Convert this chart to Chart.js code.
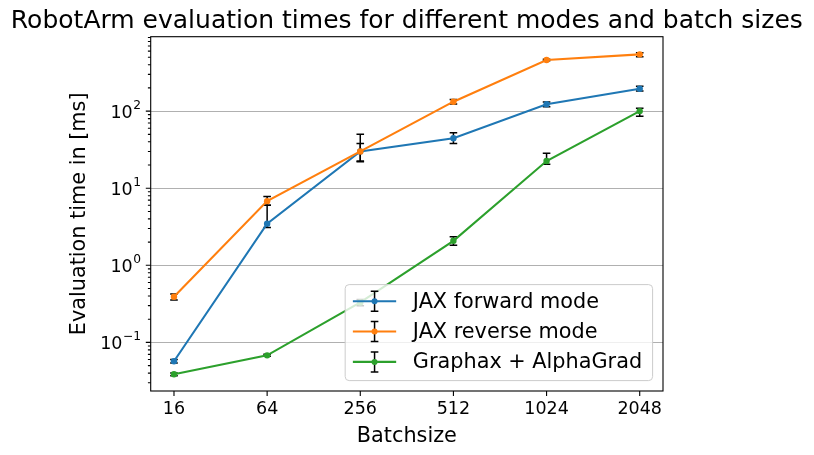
<!DOCTYPE html>
<html><head><meta charset="utf-8">
<script src="https://cdn.jsdelivr.net/npm/chart.js@4/dist/chart.umd.min.js"></script>
<style>html,body{margin:0;padding:0;background:#fff;} #wrap{width:814px;height:455px;position:relative;}</style>
</head><body><div id="wrap"><canvas id="c" width="814" height="455"></canvas></div>
<script>
const titleText = 'RobotArm evaluation times for different modes and batch sizes';
const xLabelText = 'Batchsize';
const yLabelText = 'Evaluation time in [ms]';
const batchSizes = ['16', '64', '256', '512', '1024', '2048'];
const seriesNames = ['JAX forward mode', 'JAX reverse mode', 'Graphax + AlphaGrad'];
const seriesColors = ['#1f77b4', '#ff7f0e', '#2ca02c'];
const fwdMean = [0.057, 3.47, 30, 44.4, 122.5, 195];
const fwdLow  = [0.054, 3.1, 22, 38, 114, 182];
const fwdHigh = [0.060, 6.0, 50, 52.5, 131, 210];
const revMean = [0.392, 6.8, 30, 132.5, 460, 545];
const revLow  = [0.355, 6.0, 22.5, 124, 450, 508];
const revHigh = [0.425, 7.8, 38, 142, 470, 573];
const agMean  = [0.0386, 0.068, 0.33, 2.08, 22.5, 100];
const agLow   = [0.037, 0.066, 0.30, 1.82, 20.4, 86];
const agHigh  = [0.040, 0.070, 0.36, 2.35, 28.4, 109];
const yMajorTicks = [0.1, 1, 10, 100];
const yMajorExp = ['\u22121', '0', '1', '2'];
const yMin = 0.02344, yMax = 923;

const means = [fwdMean, revMean, agMean];
const lows = [fwdLow, revLow, agLow];
const highs = [fwdHigh, revHigh, agHigh];
const FONT = '"DejaVu Sans", sans-serif';
const TICK_FS = 17.5;

function toPoints(arr) { return arr.map((v, i) => ({ x: i, y: v })); }

const plugin = {
  id: 'mplstyle',
  beforeDatasetDraw(chart, args) {
    const i = args.index;
    const xs = chart.scales.x, ys = chart.scales.y, ctx = chart.ctx;
    const a = chart.chartArea;
    ctx.save();
    ctx.beginPath(); ctx.rect(a.left, a.top, a.right - a.left, a.bottom - a.top); ctx.clip();
    ctx.strokeStyle = '#000'; ctx.lineWidth = 1.5;
    for (let j = 0; j < batchSizes.length; j++) {
      const px = xs.getPixelForValue(j);
      const y1 = ys.getPixelForValue(lows[i][j]);
      const y2 = ys.getPixelForValue(highs[i][j]);
      ctx.beginPath();
      ctx.moveTo(px, y1); ctx.lineTo(px, y2);
      ctx.moveTo(px - 3.8, y1); ctx.lineTo(px + 3.8, y1);
      ctx.moveTo(px - 3.8, y2); ctx.lineTo(px + 3.8, y2);
      ctx.stroke();
    }
    ctx.restore();
  },
  afterDatasetsDraw(chart) {
    const ctx = chart.ctx, a = chart.chartArea;
    const xs = chart.scales.x, ys = chart.scales.y;
    ctx.save();
    ctx.strokeStyle = '#000'; ctx.lineWidth = 1.1;
    ctx.strokeRect(a.left, a.top, a.right - a.left, a.bottom - a.top);
    ctx.beginPath();
    for (let e = -2; e <= 3; e++) {
      for (let m = 1; m <= 9; m++) {
        const v = m * Math.pow(10, e);
        if (v < yMin || v > yMax) continue;
        const py = ys.getPixelForValue(v);
        const len = m === 1 ? 4.9 : 2.8;
        ctx.moveTo(a.left, py); ctx.lineTo(a.left - len, py);
      }
    }
    for (let j = 0; j < batchSizes.length; j++) {
      const px = xs.getPixelForValue(j);
      ctx.moveTo(px, a.bottom); ctx.lineTo(px, a.bottom + 4.9);
    }
    ctx.stroke();
    ctx.fillStyle = '#000';
    ctx.font = TICK_FS + 'px ' + FONT;
    ctx.textAlign = 'center'; ctx.textBaseline = 'alphabetic';
    for (let j = 0; j < batchSizes.length; j++) {
      ctx.fillText(batchSizes[j], xs.getPixelForValue(j), a.bottom + 9.7 + 0.76 * TICK_FS);
    }
    for (let k = 0; k < yMajorTicks.length; k++) {
      const py = ys.getPixelForValue(yMajorTicks[k]);
      ctx.font = (0.7 * TICK_FS) + 'px ' + FONT;
      const ew = ctx.measureText(yMajorExp[k]).width;
      const right = a.left - 9.7;
      ctx.textAlign = 'right';
      ctx.fillText(yMajorExp[k], right, py - 2);
      ctx.font = TICK_FS + 'px ' + FONT;
      ctx.fillText('10', right - ew - 0.5, py + 0.37 * TICK_FS);
    }
    ctx.restore();
  },
  afterDraw(chart) {
    const ctx = chart.ctx, a = chart.chartArea;
    ctx.save();
    ctx.fillStyle = '#000';
    ctx.font = '25px ' + FONT;
    ctx.textAlign = 'center'; ctx.textBaseline = 'alphabetic';
    ctx.fillText(titleText, (a.left + a.right) / 2, a.top - 8.5);
    ctx.font = '20.8px ' + FONT;
    ctx.fillText(xLabelText, (a.left + a.right) / 2, 442);
    ctx.save();
    ctx.translate(85, (a.top + a.bottom) / 2);
    ctx.rotate(-Math.PI / 2);
    ctx.fillText(yLabelText, 0, 0);
    ctx.restore();
    const fs = 20.8;
    ctx.font = fs + 'px ' + FONT;
    let tw = 0;
    seriesNames.forEach(n => tw = Math.max(tw, ctx.measureText(n).width));
    const w = 67.7 + tw + 10.5, h = 96;
    const right = a.right - 10.4, bottom = a.bottom - 10.4;
    const left = right - w, top = bottom - h;
    ctx.beginPath();
    if (ctx.roundRect) ctx.roundRect(left, top, w, h, 4); else ctx.rect(left, top, w, h);
    ctx.fillStyle = 'rgba(255,255,255,0.8)';
    ctx.fill();
    ctx.strokeStyle = '#cccccc'; ctx.lineWidth = 1;
    ctx.stroke();
    const rows = [16.7, 46.9, 77.3];
    seriesNames.forEach((n, i) => {
      const cy = top + rows[i];
      const hx1 = left + 7.7, hx2 = left + 51, hc = left + 29.4;
      ctx.strokeStyle = '#000'; ctx.lineWidth = 1.5;
      ctx.beginPath();
      ctx.moveTo(hc, cy - 10); ctx.lineTo(hc, cy + 10);
      ctx.moveTo(hc - 3.8, cy - 10); ctx.lineTo(hc + 3.8, cy - 10);
      ctx.moveTo(hc - 3.8, cy + 10); ctx.lineTo(hc + 3.8, cy + 10);
      ctx.stroke();
      ctx.strokeStyle = seriesColors[i]; ctx.lineWidth = 2.1;
      ctx.beginPath(); ctx.moveTo(hx1, cy); ctx.lineTo(hx2, cy); ctx.stroke();
      ctx.fillStyle = seriesColors[i];
      ctx.beginPath(); ctx.arc(hc, cy, 3, 0, Math.PI * 2); ctx.fill();
      ctx.fillStyle = '#000';
      ctx.textAlign = 'left'; ctx.textBaseline = 'middle';
      ctx.fillText(n, left + 67.7, cy + 1);
    });
    ctx.restore();
  }
};

const datasets = seriesNames.map((name, i) => ({
  label: name,
  data: toPoints(means[i]),
  borderColor: seriesColors[i],
  backgroundColor: seriesColors[i],
  borderWidth: 2.1,
  pointRadius: 3.2,
  pointBorderWidth: 0,
  pointHoverRadius: 3.2,
  tension: 0,
  order: 3 - i
}));

new Chart(document.getElementById('c'), {
  type: 'line',
  data: { datasets },
  options: {
    responsive: false,
    animation: false,
    devicePixelRatio: 1,
    layout: { padding: { top: 36.7, right: 151, left: 0, bottom: 0 } },
    plugins: { legend: { display: false }, title: { display: false }, tooltip: { enabled: false } },
    scales: {
      x: {
        type: 'linear', min: -0.25, max: 5.25,
        afterBuildTicks: s => { s.ticks = batchSizes.map((_, i) => ({ value: i })); },
        afterFit: s => { s.height = 64; },
        ticks: { display: false },
        grid: { display: false },
        border: { display: false }
      },
      y: {
        type: 'logarithmic', min: yMin, max: yMax,
        afterBuildTicks: s => { s.ticks = yMajorTicks.map(v => ({ value: v })); },
        afterFit: s => { s.width = 150.7; },
        ticks: { display: false },
        grid: { color: '#b0b0b0', lineWidth: 1.1, drawTicks: false },
        border: { display: false }
      }
    }
  },
  plugins: [plugin]
});
</script>
</body></html>
